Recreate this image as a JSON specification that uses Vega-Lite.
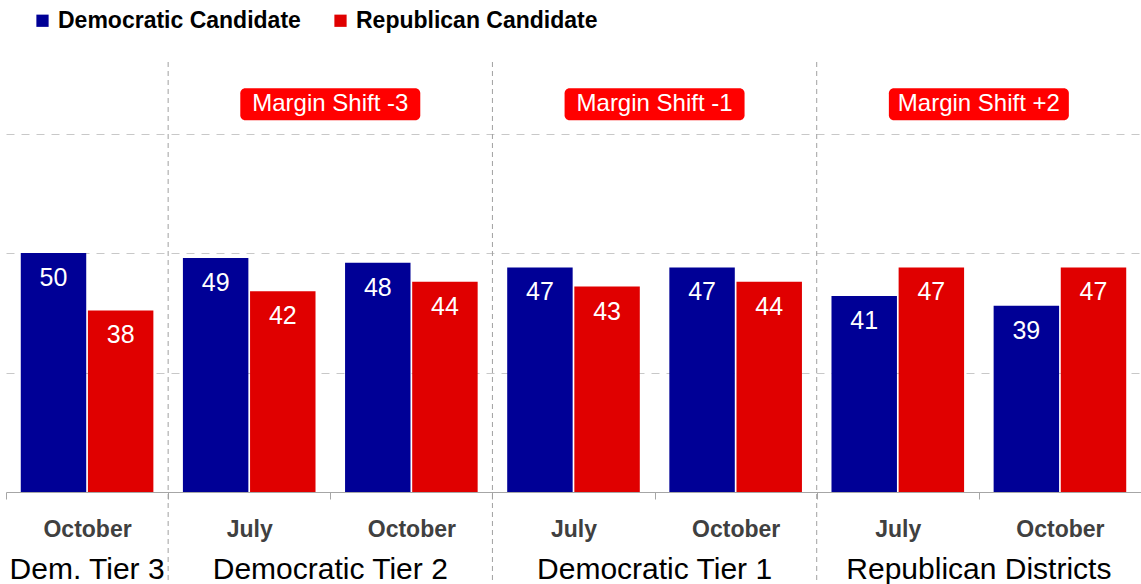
{
  "$schema": "https://vega.github.io/schema/vega-lite/v6.json",
  "width": 1135,
  "height": 430,
  "autosize": {"type": "none"},
  "padding": {"left": 6, "top": 62, "right": 0, "bottom": 92},
  "background": "white",
  "config": {"view": {"stroke": null}, "font": "Liberation Sans"},
  "resolve": {"axis": {"x": "independent", "y": "independent"}},
  "datasets": {
    "bars": [
      {"group": "Dem. Tier 3", "period": "October", "col": "Dem. Tier 3|October", "party": "Democratic Candidate", "pct": 50},
      {"group": "Dem. Tier 3", "period": "October", "col": "Dem. Tier 3|October", "party": "Republican Candidate", "pct": 38},
      {"group": "Democratic Tier 2", "period": "July", "col": "Democratic Tier 2|July", "party": "Democratic Candidate", "pct": 49},
      {"group": "Democratic Tier 2", "period": "July", "col": "Democratic Tier 2|July", "party": "Republican Candidate", "pct": 42},
      {"group": "Democratic Tier 2", "period": "October", "col": "Democratic Tier 2|October", "party": "Democratic Candidate", "pct": 48},
      {"group": "Democratic Tier 2", "period": "October", "col": "Democratic Tier 2|October", "party": "Republican Candidate", "pct": 44},
      {"group": "Democratic Tier 1", "period": "July", "col": "Democratic Tier 1|July", "party": "Democratic Candidate", "pct": 47},
      {"group": "Democratic Tier 1", "period": "July", "col": "Democratic Tier 1|July", "party": "Republican Candidate", "pct": 43},
      {"group": "Democratic Tier 1", "period": "October", "col": "Democratic Tier 1|October", "party": "Democratic Candidate", "pct": 47},
      {"group": "Democratic Tier 1", "period": "October", "col": "Democratic Tier 1|October", "party": "Republican Candidate", "pct": 44},
      {"group": "Republican Districts", "period": "July", "col": "Republican Districts|July", "party": "Democratic Candidate", "pct": 41},
      {"group": "Republican Districts", "period": "July", "col": "Republican Districts|July", "party": "Republican Candidate", "pct": 47},
      {"group": "Republican Districts", "period": "October", "col": "Republican Districts|October", "party": "Democratic Candidate", "pct": 39},
      {"group": "Republican Districts", "period": "October", "col": "Republican Districts|October", "party": "Republican Candidate", "pct": 47}
    ],
    "groups": [
      {"group": "Dem. Tier 3", "col": "Dem. Tier 3|October", "col2": "Dem. Tier 3|October", "span": 1, "shift": null},
      {"group": "Democratic Tier 2", "col": "Democratic Tier 2|July", "col2": "Democratic Tier 2|October", "span": 2, "shift": "Margin Shift -3"},
      {"group": "Democratic Tier 1", "col": "Democratic Tier 1|July", "col2": "Democratic Tier 1|October", "span": 2, "shift": "Margin Shift -1"},
      {"group": "Republican Districts", "col": "Republican Districts|July", "col2": "Republican Districts|October", "span": 2, "shift": "Margin Shift +2"}
    ]
  },
  "layer": [
    {
      "data": {"name": "bars"},
      "mark": {"type": "bar"},
      "encoding": {
        "x": {
          "field": "col", "type": "nominal", "sort": null,
          "scale": {"domain": ["Dem. Tier 3|October", "Democratic Tier 2|July", "Democratic Tier 2|October", "Democratic Tier 1|July", "Democratic Tier 1|October", "Republican Districts|July", "Republican Districts|October"], "paddingInner": 0, "paddingOuter": 0},
          "axis": {"title": null, "labelExpr": "split(datum.value, '|')[1]", "tickBand": "extent", "domainColor": "#A6A6A6", "tickColor": "#A6A6A6", "tickSize": 7, "labelFontSize": 23, "labelFontWeight": "bold", "labelColor": "#404040", "labelPadding": 19, "labelAngle": 0, "grid": false}
        },
        "xOffset": {"field": "party", "type": "nominal", "scale": {"domain": ["Democratic Candidate", "Republican Candidate"], "paddingInner": 0.025, "paddingOuter": 0.22}},
        "y": {
          "field": "pct", "type": "quantitative",
          "scale": {"domain": [0, 90], "nice": false, "zero": true},
          "axis": {"title": null, "labels": false, "ticks": false, "domain": false, "values": [25, 50, 75], "grid": true, "gridDash": [8, 7], "gridColor": "#C8C8C8", "gridWidth": 1}
        },
        "color": {
          "field": "party", "type": "nominal",
          "scale": {"domain": ["Democratic Candidate", "Republican Candidate"], "range": ["#000096", "#E00000"]},
          "legend": {"orient": "none", "legendX": 25, "legendY": -53, "direction": "horizontal", "title": null, "symbolType": "square", "symbolSize": 150, "symbolStrokeWidth": 0, "symbolOpacity": 1, "labelFontSize": 23, "labelFontWeight": "bold", "labelColor": "#000000", "labelLimit": 400, "labelOffset": 4, "columnPadding": 28, "padding": 0}
        }
      }
    },
    {
      "data": {"name": "bars"},
      "mark": {"type": "text", "color": "white", "fontSize": 25, "baseline": "middle", "dy": 25},
      "encoding": {
        "x": {"field": "col", "type": "nominal", "sort": null, "scale": {"domain": ["Dem. Tier 3|October", "Democratic Tier 2|July", "Democratic Tier 2|October", "Democratic Tier 1|July", "Democratic Tier 1|October", "Republican Districts|July", "Republican Districts|October"]}, "axis": null},
        "xOffset": {"field": "party", "type": "nominal"},
        "y": {"field": "pct", "type": "quantitative", "scale": {"domain": [0, 90]}, "axis": null},
        "text": {"field": "pct", "type": "quantitative"}
      }
    },
    {
      "data": {"name": "groups"},
      "transform": [{"filter": "datum.span == 2"}],
      "mark": {"type": "rule", "color": "#A0A0A0", "strokeDash": [5, 4], "strokeWidth": 1},
      "encoding": {
        "x": {"field": "col", "type": "nominal", "bandPosition": 0, "scale": {"domain": ["Dem. Tier 3|October", "Democratic Tier 2|July", "Democratic Tier 2|October", "Democratic Tier 1|July", "Democratic Tier 1|October", "Republican Districts|July", "Republican Districts|October"]}, "axis": null},
        "y": {"datum": 90, "type": "quantitative", "scale": {"domain": [0, 90]}, "axis": null},
        "y2": {"datum": -20}
      }
    },
    {
      "data": {"name": "groups"},
      "transform": [{"filter": "datum.span == 1"}],
      "mark": {"type": "text", "fontSize": 30, "color": "#000000", "baseline": "alphabetic", "align": "center"},
      "encoding": {
        "x": {"field": "col", "type": "nominal", "bandPosition": 0.5, "scale": {"domain": ["Dem. Tier 3|October", "Democratic Tier 2|July", "Democratic Tier 2|October", "Democratic Tier 1|July", "Democratic Tier 1|October", "Republican Districts|July", "Republican Districts|October"]}, "axis": null},
        "y": {"datum": -18.2, "type": "quantitative", "scale": {"domain": [0, 90]}, "axis": null},
        "text": {"field": "group", "type": "nominal"}
      }
    },
    {
      "data": {"name": "groups"},
      "transform": [{"filter": "datum.span == 2"}],
      "mark": {"type": "text", "fontSize": 30, "color": "#000000", "baseline": "alphabetic", "align": "center"},
      "encoding": {
        "x": {"field": "col", "type": "nominal", "bandPosition": 1, "scale": {"domain": ["Dem. Tier 3|October", "Democratic Tier 2|July", "Democratic Tier 2|October", "Democratic Tier 1|July", "Democratic Tier 1|October", "Republican Districts|July", "Republican Districts|October"]}, "axis": null},
        "y": {"datum": -18.2, "type": "quantitative", "scale": {"domain": [0, 90]}, "axis": null},
        "text": {"field": "group", "type": "nominal"}
      }
    },
    {
      "data": {"name": "groups"},
      "transform": [{"filter": "datum.shift != null"}],
      "mark": {"type": "rect", "color": "#FF0000", "cornerRadius": 5},
      "encoding": {
        "x": {"field": "col", "type": "nominal", "bandPosition": 0.445, "scale": {"domain": ["Dem. Tier 3|October", "Democratic Tier 2|July", "Democratic Tier 2|October", "Democratic Tier 1|July", "Democratic Tier 1|October", "Republican Districts|July", "Republican Districts|October"]}, "axis": null},
        "x2": {"field": "col2", "bandPosition": 0.555},
        "y": {"datum": 84.5, "type": "quantitative", "scale": {"domain": [0, 90]}, "axis": null},
        "y2": {"datum": 77.8}
      }
    },
    {
      "data": {"name": "groups"},
      "transform": [{"filter": "datum.shift != null"}],
      "mark": {"type": "text", "fontSize": 24, "color": "white", "baseline": "middle", "align": "center"},
      "encoding": {
        "x": {"field": "col", "type": "nominal", "bandPosition": 1, "scale": {"domain": ["Dem. Tier 3|October", "Democratic Tier 2|July", "Democratic Tier 2|October", "Democratic Tier 1|July", "Democratic Tier 1|October", "Republican Districts|July", "Republican Districts|October"]}, "axis": null},
        "y": {"datum": 81.2, "type": "quantitative", "scale": {"domain": [0, 90]}, "axis": null},
        "text": {"field": "shift", "type": "nominal"}
      }
    }
  ]
}
